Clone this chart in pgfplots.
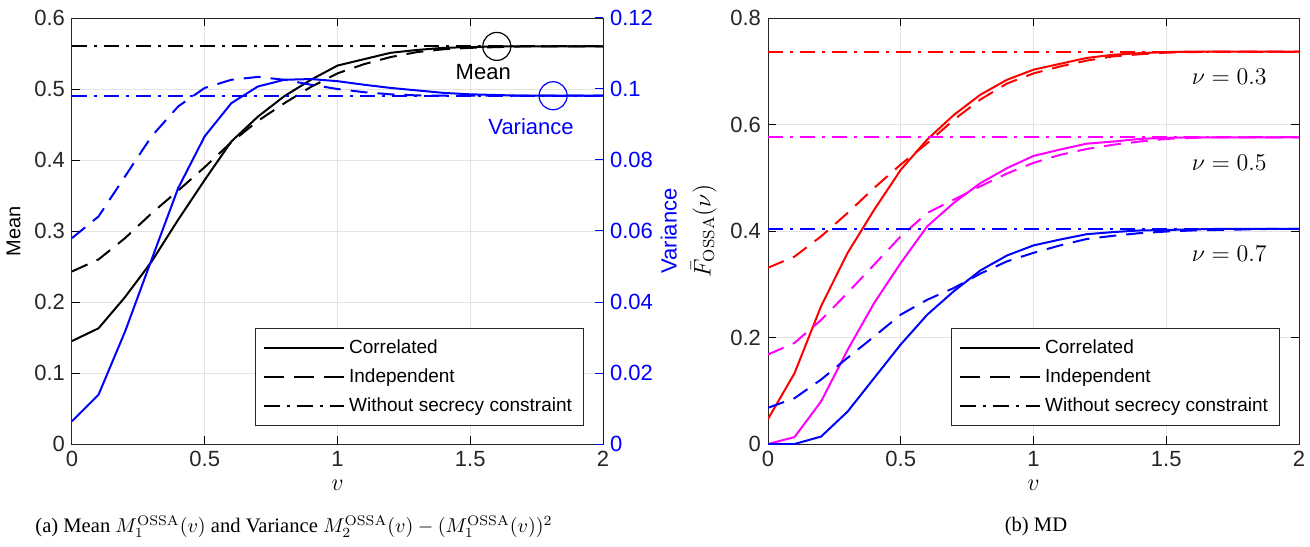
\documentclass[border=0pt]{standalone}
\usepackage[no-math]{fontspec}
\setmainfont{Liberation Sans}
\newfontfamily\capfont{Liberation Serif}
\usepackage{pgfplots}
\pgfplotsset{compat=1.18}
\definecolor{mblue}{rgb}{0,0,1}
\definecolor{mmag}{rgb}{1,0,1}
\definecolor{mred}{rgb}{1,0,0}
\definecolor{mgray}{rgb}{0.15,0.15,0.15}
\begin{document}
\begin{tikzpicture}
\path[use as bounding box] (-36pt,-51pt) rectangle (619pt,222pt);
\pgfplotsset{
  base/.style={
    scale only axis, width=265.5pt, height=213pt,
    xmin=0, xmax=2, xtick={0,0.5,1,1.5,2},
    tick align=inside,
    xticklabel style={font=\fontsize{11}{13}\selectfont, text=mgray},
    yticklabel style={font=\fontsize{11}{13}\selectfont},
    label style={font=\fontsize{11.5}{13}\selectfont},
    scaled ticks=false,
    /pgf/number format/fixed,
    /pgf/number format/precision=3,
    /pgf/number format/assume math mode=true,
    major tick length=4pt,
    axis line style={line width=0.5pt},
    every tick/.style={line width=0.5pt},
  },
  gridded/.style={grid=major, major grid style={gray!22, line width=0.5pt},
    axis line style={mgray}, yticklabel style={text=mgray}},
  mylegend/.style={
    legend style={at={(rel axis cs:0.965,0.043)}, anchor=south east, draw=mgray,
      line width=0.5pt, fill=white, font=\fontsize{9.5}{11.5}\selectfont,
      row sep=2pt, inner xsep=4pt, inner ysep=3.5pt},
    legend cell align=left,
    legend image code/.code={\draw[##1] (0pt,0pt) -- (40pt,0pt);},
  },
  sol/.style={line width=1pt, solid},
  dsh/.style={line width=1pt, dash pattern=on 8.5pt off 5pt},
  dd/.style={line width=1pt, dash pattern=on 7.5pt off 3.5pt on 1.5pt off 3.5pt},
}
% ---------------- left: mean ----------------
\begin{axis}[base, gridded, mylegend,
  ymin=0, ymax=0.6, ytick={0,0.1,0.2,0.3,0.4,0.5,0.6},
  ytick pos=left, xtick pos=both,
  xlabel={$v$}, ylabel={Mean}, ylabel style={font=\fontsize{10}{12}\selectfont},
  legend entries={Correlated, Independent, Without secrecy constraint}]
\addlegendimage{black, line width=1pt, solid}
\addlegendimage{black, line width=1pt, dash pattern=on 10pt off 5pt}
\addlegendimage{black, line width=1pt, dash pattern=on 8pt off 3.5pt on 1.5pt off 3.5pt}
\addplot[black, sol] coordinates {(0,0.145) (0.1,0.163) (0.2,0.207) (0.3,0.257) (0.4,0.316) (0.5,0.372) (0.6,0.426) (0.7,0.461) (0.8,0.490) (0.9,0.513) (1.0,0.533) (1.1,0.542) (1.2,0.551) (1.3,0.555) (1.4,0.558) (1.5,0.559) (1.6,0.560) (1.7,0.560) (1.8,0.560) (1.9,0.560) (2.0,0.560)};
\addplot[black, dsh] coordinates {(0,0.243) (0.1,0.260) (0.2,0.290) (0.3,0.325) (0.4,0.357) (0.5,0.390) (0.6,0.425) (0.7,0.455) (0.8,0.480) (0.9,0.503) (1.0,0.522) (1.1,0.535) (1.2,0.545) (1.3,0.552) (1.4,0.556) (1.5,0.558) (1.6,0.559) (1.7,0.560) (1.8,0.560) (1.9,0.560) (2.0,0.560)};
\addplot[black, dd] coordinates {(0,0.560) (2,0.560)};
\addplot[black, only marks, mark=o, mark size=7pt, mark options={line width=0.6pt}] coordinates {(1.6,0.560)};
\node[black, font=\fontsize{11}{13}\selectfont] at (axis cs:1.549,0.524) {Mean};
\end{axis}
% ---------------- left: variance ----------------
\begin{axis}[base, axis x line=none, axis y line*=right,
  ymin=0, ymax=0.12, ytick={0,0.02,0.04,0.06,0.08,0.1,0.12},
  y axis line style={mblue, line width=0.5pt}, ytick style={mblue}, yticklabel style={mblue},
  ylabel={Variance}, ylabel style={mblue, font=\fontsize{11}{13}\selectfont}, ylabel shift=-3pt]
\addplot[mblue, sol] coordinates {(0,0.0064) (0.1,0.0139) (0.2,0.0317) (0.3,0.0520) (0.4,0.0721) (0.5,0.0867) (0.6,0.0960) (0.7,0.1007) (0.8,0.1026) (0.9,0.1028) (1.0,0.1022) (1.1,0.1012) (1.2,0.1003) (1.3,0.0996) (1.4,0.0989) (1.5,0.0985) (1.6,0.0983) (1.7,0.0981) (1.8,0.0981) (1.9,0.0981) (2.0,0.0981)};
\addplot[mblue, dsh] coordinates {(0,0.0580) (0.1,0.0641) (0.2,0.0754) (0.3,0.0867) (0.4,0.0951) (0.5,0.1003) (0.6,0.1026) (0.7,0.1034) (0.8,0.1026) (0.9,0.1012) (1.0,0.1000) (1.1,0.0991) (1.2,0.0985) (1.3,0.0982) (1.4,0.0981) (1.5,0.0981) (1.6,0.0981) (1.7,0.0981) (1.8,0.0981) (1.9,0.0981) (2.0,0.0981)};
\addplot[mblue, dd] coordinates {(0,0.0981) (2,0.0981)};
\addplot[mblue, only marks, mark=o, mark size=7pt, mark options={line width=0.6pt}] coordinates {(1.812,0.0981)};
\node[mblue, font=\fontsize{11}{13}\selectfont] at (axis cs:1.729,0.0893) {Variance};
\end{axis}
% ---------------- right: MD ----------------
\begin{axis}[base, gridded, mylegend, at={(348pt,0pt)},
  ymin=0, ymax=0.8, ytick={0,0.2,0.4,0.6,0.8},
  xtick pos=both, ytick pos=both,
  xlabel={$v$}, ylabel={$\bar{F}_{\mathrm{OSSA}}(\nu)$},
  legend entries={Correlated, Independent, Without secrecy constraint}]
\addlegendimage{black, line width=1pt, solid}
\addlegendimage{black, line width=1pt, dash pattern=on 10pt off 5pt}
\addlegendimage{black, line width=1pt, dash pattern=on 8pt off 3.5pt on 1.5pt off 3.5pt}
% nu = 0.3
\addplot[mred, sol] coordinates {(0,0.047) (0.1,0.133) (0.2,0.259) (0.3,0.359) (0.4,0.440) (0.5,0.515) (0.6,0.572) (0.7,0.618) (0.8,0.656) (0.9,0.684) (1.0,0.703) (1.1,0.714) (1.2,0.725) (1.3,0.731) (1.4,0.734) (1.5,0.736) (1.6,0.737) (1.7,0.737) (1.8,0.737) (1.9,0.737) (2.0,0.737)};
\addplot[mred, dsh] coordinates {(0,0.331) (0.1,0.352) (0.2,0.390) (0.3,0.434) (0.4,0.481) (0.5,0.525) (0.6,0.565) (0.7,0.609) (0.8,0.647) (0.9,0.677) (1.0,0.696) (1.1,0.709) (1.2,0.720) (1.3,0.728) (1.4,0.732) (1.5,0.735) (1.6,0.736) (1.7,0.737) (1.8,0.737) (1.9,0.737) (2.0,0.737)};
\addplot[mred, dd] coordinates {(0,0.737) (2,0.737)};
% nu = 0.5
\addplot[mmag, sol] coordinates {(0,0.000) (0.1,0.013) (0.2,0.080) (0.3,0.177) (0.4,0.265) (0.5,0.340) (0.6,0.409) (0.7,0.453) (0.8,0.490) (0.9,0.518) (1.0,0.541) (1.1,0.553) (1.2,0.564) (1.3,0.568) (1.4,0.573) (1.5,0.575) (1.6,0.576) (1.7,0.576) (1.8,0.576) (1.9,0.576) (2.0,0.576)};
\addplot[mmag, dsh] coordinates {(0,0.168) (0.1,0.190) (0.2,0.233) (0.3,0.284) (0.4,0.337) (0.5,0.390) (0.6,0.434) (0.7,0.459) (0.8,0.484) (0.9,0.508) (1.0,0.528) (1.1,0.543) (1.2,0.554) (1.3,0.562) (1.4,0.568) (1.5,0.573) (1.6,0.575) (1.7,0.576) (1.8,0.576) (1.9,0.576) (2.0,0.576)};
\addplot[mmag, dd] coordinates {(0,0.576) (2,0.576)};
% nu = 0.7
\addplot[mblue, sol] coordinates {(0,0.000) (0.1,0.000) (0.2,0.014) (0.3,0.061) (0.4,0.124) (0.5,0.187) (0.6,0.243) (0.7,0.287) (0.8,0.326) (0.9,0.354) (1.0,0.373) (1.1,0.384) (1.2,0.394) (1.3,0.398) (1.4,0.401) (1.5,0.402) (1.6,0.403) (1.7,0.404) (1.8,0.404) (1.9,0.404) (2.0,0.404)};
\addplot[mblue, dsh] coordinates {(0,0.068) (0.1,0.086) (0.2,0.121) (0.3,0.162) (0.4,0.202) (0.5,0.243) (0.6,0.271) (0.7,0.293) (0.8,0.320) (0.9,0.343) (1.0,0.359) (1.1,0.373) (1.2,0.385) (1.3,0.391) (1.4,0.396) (1.5,0.399) (1.6,0.401) (1.7,0.402) (1.8,0.403) (1.9,0.404) (2.0,0.404)};
\addplot[mblue, dd] coordinates {(0,0.404) (2,0.404)};
\node[font=\fontsize{11.5}{13}\selectfont] at (axis cs:1.737,0.689) {$\nu=0.3$};
\node[font=\fontsize{11.5}{13}\selectfont] at (axis cs:1.737,0.528) {$\nu=0.5$};
\node[font=\fontsize{11.5}{13}\selectfont] at (axis cs:1.737,0.357) {$\nu=0.7$};
\end{axis}
% ---------------- captions ----------------
\node[font=\capfont\fontsize{10.3}{12}\selectfont] at (111pt,-41.5pt) {(a) Mean $M_1^{\mathrm{OSSA}}(v)$ and Variance $M_2^{\mathrm{OSSA}}(v)-(M_1^{\mathrm{OSSA}}(v))^2$};
\node[font=\capfont\fontsize{10.3}{12}\selectfont] at (482pt,-41.5pt) {(b) MD};
\end{tikzpicture}
\end{document}
